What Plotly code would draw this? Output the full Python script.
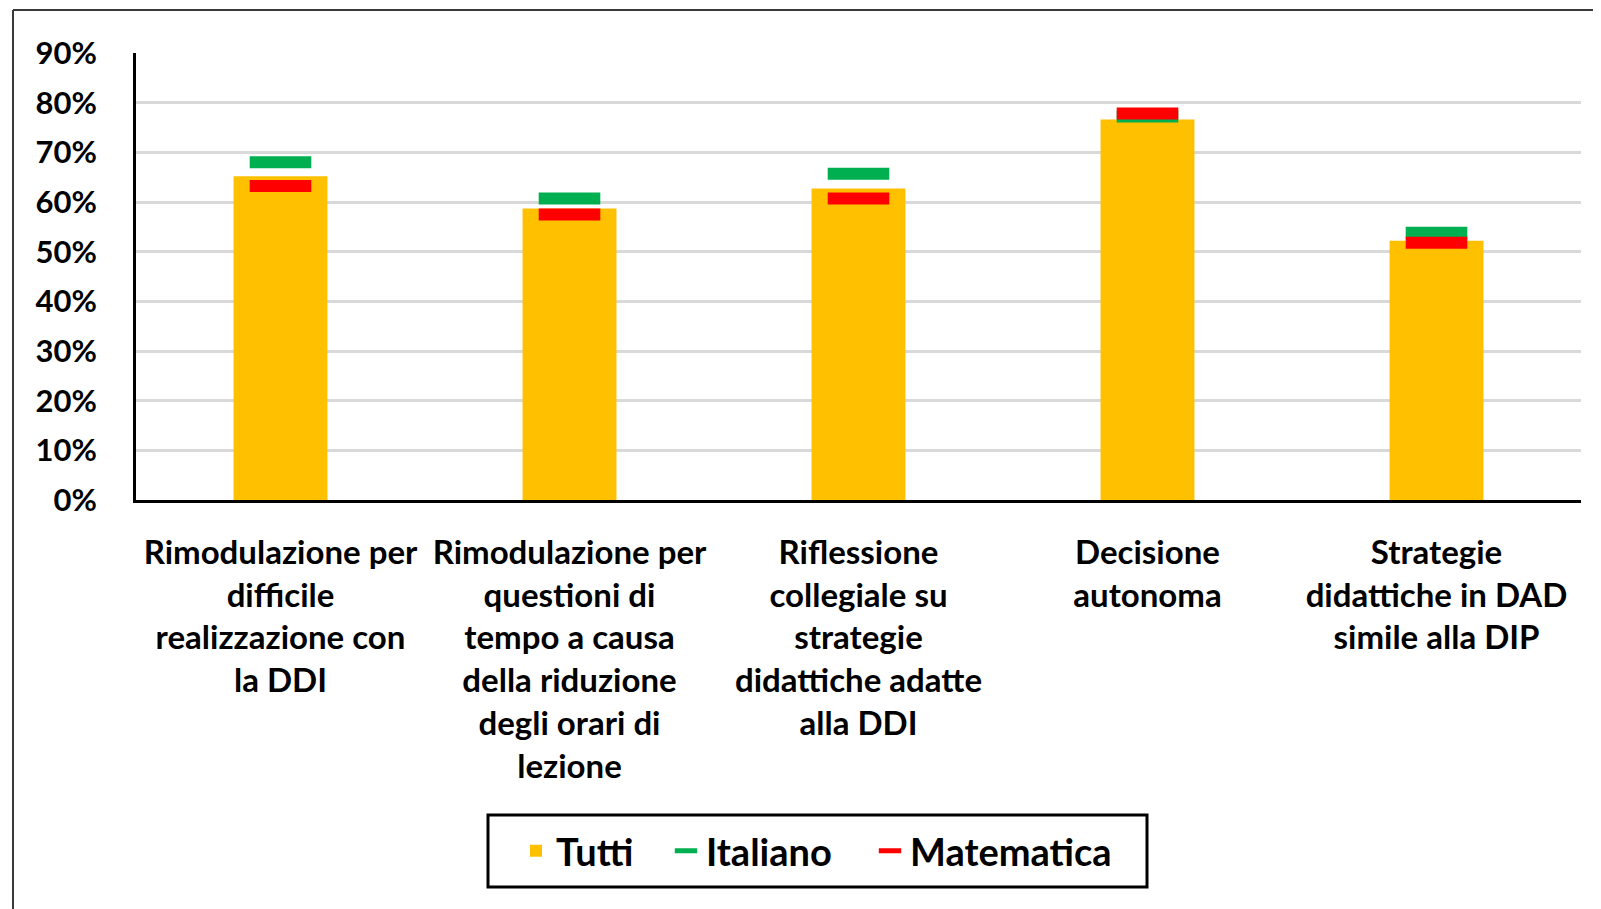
import plotly.graph_objects as go

categories = [
    "Rimodulazione per<br>difficile<br>realizzazione con<br>la DDI",
    "Rimodulazione per<br>questioni di<br>tempo a causa<br>della riduzione<br>degli orari di<br>lezione",
    "Riflessione<br>collegiale su<br>strategie<br>didattiche adatte<br>alla DDI",
    "Decisione<br>autonoma",
    "Strategie<br>didattiche in DAD<br>simile alla DIP",
]
tutti = [0.652, 0.587, 0.627, 0.766, 0.522]
italiano = [0.680, 0.607, 0.657, 0.772, 0.538]
matematica = [0.632, 0.575, 0.607, 0.778, 0.518]

W, H = 1601, 909
L, R, T, B = 128, 28, 45, 417
pw, ph = W - L - R, H - T - B

fig = go.Figure()
fig.add_trace(go.Bar(x=categories, y=tutti, name="Tutti", width=0.325, legendwidth=105,
                     marker=dict(color="#FFC000", line=dict(width=0))))
fig.add_trace(go.Scatter(x=categories, y=italiano, name="Italiano", mode="markers",
                         legendwidth=159,
                         marker=dict(symbol="line-ew", size=44,
                                     line=dict(width=12, color="#00B050"))))
fig.add_trace(go.Scatter(x=categories, y=matematica, name="Matematica", mode="markers",
                         legendwidth=200,
                         marker=dict(symbol="line-ew", size=44,
                                     line=dict(width=12, color="#FF0000"))))


def px_x(v):
    return (v - L) / pw


def px_y(v):
    return (H - B - v) / ph


# outer frame, only left and top edges show
frame = dict(type="line", xref="paper", yref="paper", line=dict(color="#3a3a3a", width=2))
fig.add_shape(x0=px_x(5), x1=px_x(5), y0=px_y(2), y1=px_y(H + 5), **frame)
fig.add_shape(x0=px_x(5), x1=px_x(W + 5), y0=px_y(2), y1=px_y(2), **frame)
# legend box
fig.add_shape(type="rect", xref="paper", yref="paper",
              x0=px_x(480), x1=px_x(1139), y0=px_y(807), y1=px_y(879),
              line=dict(color="black", width=3))

fig.update_layout(
    width=W, height=H,
    margin=dict(l=L, r=R, t=T, b=B),
    paper_bgcolor="white", plot_bgcolor="white",
    font=dict(family="Lato", color="black"),
    showlegend=True,
    legend=dict(orientation="h", x=px_x(508), y=px_y(843), xanchor="left", yanchor="middle",
                borderwidth=0, bgcolor="rgba(0,0,0,0)",
                font=dict(size=38, family="Lato", weight="bold"), traceorder="normal"),
    xaxis=dict(showline=True, linecolor="black", linewidth=3, showgrid=False,
               ticks="outside", ticklen=21, tickcolor="rgba(0,0,0,0)",
               tickfont=dict(size=33, family="Lato", weight="bold")),
    yaxis=dict(range=[0, 0.9], dtick=0.1, tickformat=".0%", showline=True,
               linecolor="black", linewidth=3, gridcolor="#D9D9D9", gridwidth=3,
               zeroline=False, ticks="outside", ticklen=30, tickcolor="rgba(0,0,0,0)",
               tickfont=dict(size=31, family="Lato", weight="bold")),
)

fig.write_html("out.html")
